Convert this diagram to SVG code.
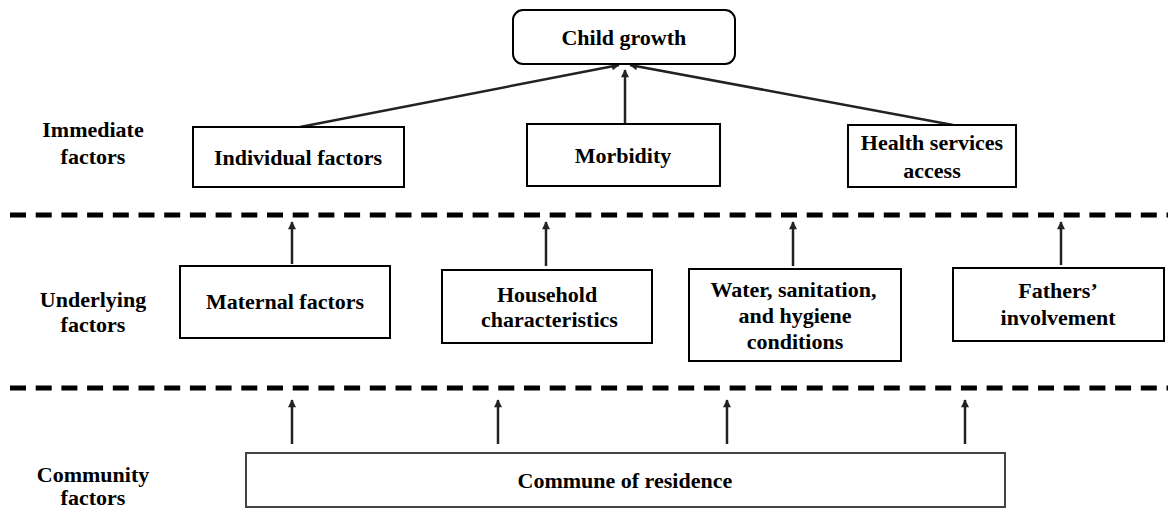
<svg xmlns="http://www.w3.org/2000/svg" width="1168" height="508" viewBox="0 0 1168 508">
<defs>
  <marker id="ah" viewBox="0 0 10 10" refX="9" refY="5" markerWidth="10" markerHeight="8" markerUnits="userSpaceOnUse" orient="auto">
    <path d="M0,0 L10,5 L0,10 z" fill="#222"/>
  </marker>
</defs>

<g id="level-labels">
  <text font-family="Liberation Serif" font-weight="bold" font-size="22" x="42.3" y="137">Immediate</text>
  <text font-family="Liberation Serif" font-weight="bold" font-size="22" x="60.6" y="164">factors</text>
  <text font-family="Liberation Serif" font-weight="bold" font-size="22" x="39.8" y="307">Underlying</text>
  <text font-family="Liberation Serif" font-weight="bold" font-size="22" x="60.6" y="332">factors</text>
  <text font-family="Liberation Serif" font-weight="bold" font-size="22" x="36.8" y="482">Community</text>
  <text font-family="Liberation Serif" font-weight="bold" font-size="22" x="60.6" y="505">factors</text>
</g>

<g id="separators" stroke="#000" stroke-width="5" stroke-dasharray="16 9.7" fill="none">
  <line x1="10" y1="215" x2="1168" y2="215"/>
  <line x1="10" y1="388" x2="1168" y2="388"/>
</g>

<g id="connectors" stroke="#222" stroke-width="2.5" fill="none">
  <line marker-end="url(#ah)" x1="300" y1="127" x2="619" y2="65"/>
  <line marker-end="url(#ah)" x1="953" y1="125" x2="630" y2="65"/>
  <line marker-end="url(#ah)" x1="625" y1="124" x2="625" y2="70"/>
  <line marker-end="url(#ah)" x1="292" y1="264" x2="292" y2="222"/>
  <line marker-end="url(#ah)" x1="546" y1="266" x2="546" y2="222"/>
  <line marker-end="url(#ah)" x1="793" y1="266" x2="793" y2="222"/>
  <line marker-end="url(#ah)" x1="1061" y1="265" x2="1061" y2="222"/>
  <line marker-end="url(#ah)" x1="292" y1="444" x2="292" y2="400"/>
  <line marker-end="url(#ah)" x1="498" y1="444" x2="498" y2="400"/>
  <line marker-end="url(#ah)" x1="727" y1="444" x2="727" y2="400"/>
  <line marker-end="url(#ah)" x1="965" y1="444" x2="965" y2="400"/>
</g>

<g id="child-growth">
  <rect fill="#fff" stroke="#000" stroke-width="2" x="513" y="10" width="222" height="54" rx="10" ry="10"/>
  <text font-family="Liberation Serif" font-weight="bold" font-size="22" x="561.4" y="45">Child growth</text>
</g>

<g id="individual-factors">
  <rect fill="#fff" stroke="#000" stroke-width="2" x="193" y="127" width="211" height="60"/>
  <text font-family="Liberation Serif" font-weight="bold" font-size="22" x="213.9" y="165">Individual factors</text>
</g>

<g id="morbidity">
  <rect fill="#fff" stroke="#000" stroke-width="2" x="527" y="124" width="193" height="62"/>
  <text font-family="Liberation Serif" font-weight="bold" font-size="22" x="574.7" y="163">Morbidity</text>
</g>

<g id="health-services-access">
  <rect fill="#fff" stroke="#000" stroke-width="2" x="848" y="125" width="168" height="62"/>
  <text font-family="Liberation Serif" font-weight="bold" font-size="22" x="860.8" y="150">Health services</text>
  <text font-family="Liberation Serif" font-weight="bold" font-size="22" x="903.3" y="178">access</text>
</g>

<g id="maternal-factors">
  <rect fill="#fff" stroke="#000" stroke-width="2" x="180" y="266" width="210" height="72"/>
  <text font-family="Liberation Serif" font-weight="bold" font-size="22" x="205.9" y="309">Maternal factors</text>
</g>

<g id="household-characteristics">
  <rect fill="#fff" stroke="#000" stroke-width="2" x="442" y="270" width="210" height="73"/>
  <text font-family="Liberation Serif" font-weight="bold" font-size="22" x="496.9" y="302">Household</text>
  <text font-family="Liberation Serif" font-weight="bold" font-size="22" x="481" y="327">characteristics</text>
</g>

<g id="wash-conditions">
  <rect fill="#fff" stroke="#000" stroke-width="2" x="689" y="269" width="212" height="92"/>
  <text font-family="Liberation Serif" font-weight="bold" font-size="22" x="710.4" y="297">Water, sanitation,</text>
  <text font-family="Liberation Serif" font-weight="bold" font-size="22" x="738.5" y="323">and hygiene</text>
  <text font-family="Liberation Serif" font-weight="bold" font-size="22" x="746.7" y="349">conditions</text>
</g>

<g id="fathers-involvement">
  <rect fill="#fff" stroke="#000" stroke-width="2" x="953" y="268" width="211" height="73"/>
  <text font-family="Liberation Serif" font-weight="bold" font-size="22" x="1018.3" y="298">Fathers’</text>
  <text font-family="Liberation Serif" font-weight="bold" font-size="22" x="1000.6" y="325">involvement</text>
</g>

<g id="commune-of-residence">
  <rect fill="#fff" stroke="#444" stroke-width="2" x="246" y="453" width="759" height="54"/>
  <text font-family="Liberation Serif" font-weight="bold" font-size="22" x="517.5" y="488">Commune of residence</text>
</g>
</svg>
